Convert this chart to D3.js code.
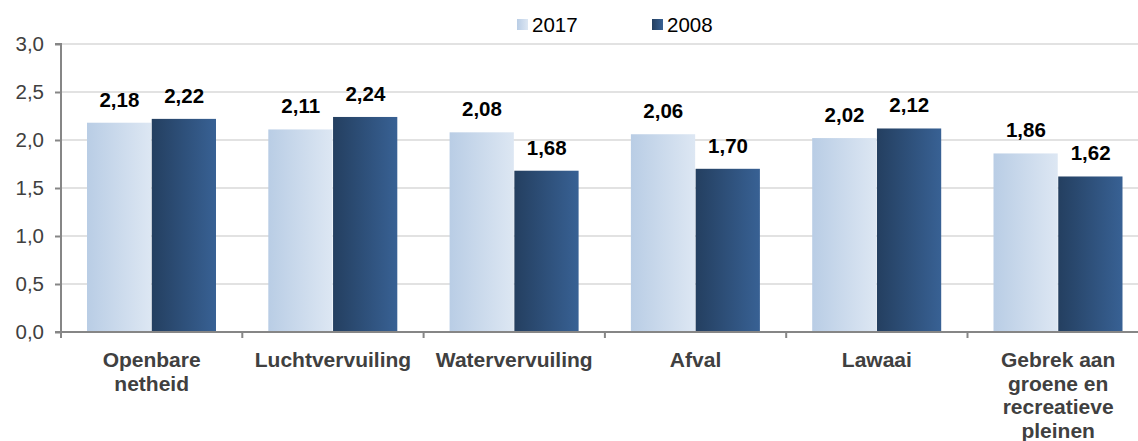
<!DOCTYPE html>
<html>
<head>
<meta charset="utf-8">
<script src="https://cdn.jsdelivr.net/npm/d3@7"></script>
<style>
  body { margin: 0; background: #fff; }
  svg { display: block; font-family: "Liberation Sans", Arial, sans-serif; }
</style>
</head>
<body>
<svg id="chart" width="1138" height="441"></svg>
<script>
"use strict";

const categories = [
  ["Openbare", "netheid"],
  ["Luchtvervuiling"],
  ["Watervervuiling"],
  ["Afval"],
  ["Lawaai"],
  ["Gebrek aan", "groene en", "recreatieve", "pleinen"]
];
const seriesNames = ["2017", "2008"];
const values2017 = [2.18, 2.11, 2.08, 2.06, 2.02, 1.86];
const values2008 = [2.22, 2.24, 1.68, 1.70, 2.12, 1.62];
const yTicks = [0, 0.5, 1.0, 1.5, 2.0, 2.5, 3.0];

const svg = d3.select("#chart");
const m = { left: 61, top: 44, bottom: 332 };
const bandW = 181.3;

let fmt = v => d3.format(".2f")(v).replace(".", ",");
let fmtTick = v => d3.format(".1f")(v).replace(".", ",");

// gradients
const defs = svg.append("defs");
const grads = [
  { id: "g2017", from: "#b9cde5", to: "#dde7f3" },
  { id: "g2008", from: "#243f60", to: "#386194" }
];
grads.forEach(g => {
  let lg = defs.append("linearGradient").attr("id", g.id)
    .attr("x1", "0").attr("x2", "1").attr("y1", "0").attr("y2", "0");
  lg.append("stop").attr("offset", "0%").attr("stop-color", g.from);
  lg.append("stop").attr("offset", "100%").attr("stop-color", g.to);
});

const idx = d3.range(categories.length);
const x = d3.scaleBand().domain(idx).range([m.left, m.left + bandW * categories.length]);
const xs = d3.scaleBand().domain(seriesNames).range([26, 26 + 129.5]);
const y = d3.scaleLinear().domain([0, 3]).range([m.bottom, m.top]);

// grid lines
svg.append("g").selectAll("line").data(yTicks.filter(t => t > 0)).join("line")
  .attr("x1", m.left).attr("x2", 1138)
  .attr("y1", d => y(d)).attr("y2", d => y(d))
  .attr("stroke", "#d9d9d9").attr("stroke-width", 1.5);

// bars
const series = [
  { name: "2017", vals: values2017, fill: "url(#g2017)" },
  { name: "2008", vals: values2008, fill: "url(#g2008)" }
];
series.forEach(s => {
  let g = svg.append("g");
  g.selectAll("rect").data(s.vals).join("rect")
    .attr("x", (d, i) => x(i) + xs(s.name))
    .attr("y", d => y(d))
    .attr("width", xs.bandwidth() - 0.5)
    .attr("height", d => y(0) - y(d))
    .attr("fill", s.fill);
  g.selectAll("text").data(s.vals).join("text")
    .attr("x", (d, i) => x(i) + xs(s.name) + xs.bandwidth() / 2)
    .attr("y", d => y(d) - 16)
    .attr("text-anchor", "middle")
    .attr("font-size", 20.5).attr("font-weight", "bold").attr("fill", "#000")
    .text(d => fmt(d));
});

// y axis
const yAxis = d3.axisLeft(y).tickValues(yTicks).tickFormat(fmtTick).tickSize(6).tickPadding(11);
const ya = svg.append("g").attr("transform", `translate(${m.left},0)`).call(yAxis);
ya.select(".domain").attr("stroke", "#868686").attr("stroke-width", 2).attr("d", `M-6,${m.top}H0V${m.bottom}H-6`);
ya.selectAll(".tick line").attr("stroke", "#868686").attr("stroke-width", 2);
ya.selectAll(".tick text").attr("font-size", 20.5).attr("fill", "#404040")
  .attr("font-family", "Liberation Sans, Arial, sans-serif");

// x axis
const xEdges = d3.range(categories.length + 1).map(i => m.left + i * bandW);
const xa = svg.append("g");
xa.append("line").attr("x1", m.left).attr("x2", 1138)
  .attr("y1", m.bottom).attr("y2", m.bottom)
  .attr("stroke", "#868686").attr("stroke-width", 2);
xa.selectAll("line.tk").data(xEdges).join("line").attr("class", "tk")
  .attr("x1", d => d).attr("x2", d => d)
  .attr("y1", m.bottom).attr("y2", m.bottom + 6)
  .attr("stroke", "#868686").attr("stroke-width", 2);
xa.selectAll("text").data(categories).join("text")
  .attr("x", (d, i) => x(i) + x.bandwidth() / 2)
  .attr("y", 367)
  .attr("text-anchor", "middle")
  .attr("font-size", 21).attr("font-weight", "bold").attr("fill", "#404040")
  .each(function (d) {
    let t = d3.select(this);
    d.forEach((line, k) => {
      t.append("tspan").attr("x", t.attr("x")).attr("dy", k === 0 ? 0 : 23.5).text(line);
    });
  });

// legend
const legX = [517, 652];
const lg = svg.append("g");
series.forEach((s, i) => {
  lg.append("rect").attr("x", legX[i]).attr("y", 19).attr("width", 11).attr("height", 11).attr("fill", s.fill);
  lg.append("text").attr("x", legX[i] + 15).attr("y", 32)
    .attr("font-size", 20.5).attr("fill", "#000").text(s.name);
});
</script>
</body>
</html>
